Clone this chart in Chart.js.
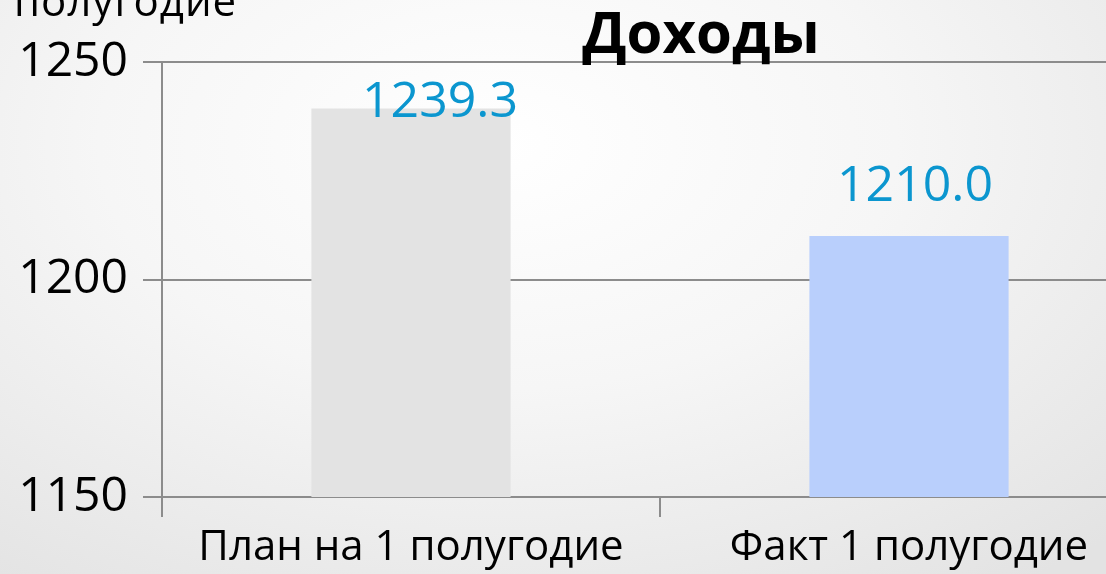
<!DOCTYPE html>
<html lang="ru">
<head>
<meta charset="utf-8">
<script src="https://cdn.jsdelivr.net/npm/chart.js@4.4.1/dist/chart.umd.min.js"></script>
<style>
  html, body { margin: 0; padding: 0; width: 1106px; height: 574px; overflow: hidden; }
  body {
    position: relative;
    font-family: "Open Sans", sans-serif;
    background: radial-gradient(ellipse 80% 95% at 45% 25%, #ffffff 0%, #f6f6f6 45%, #e3e3e3 100%);
  }
  #wrap { position: absolute; left: 0; top: 0; width: 1160px; height: 574px; }
  #stray { position: absolute; left: 14px; top: -21px; font-size: 42px; line-height: 1; color: #000; letter-spacing: 1px; }
  #title { position: absolute; left: 451px; width: 500px; top: 2px; text-align: center; font-size: 58px; font-weight: bold; line-height: 1; color: #000; }
</style>
</head>
<body>
<div id="wrap"><canvas id="chart"></canvas></div>
<div id="stray">полугодие</div>
<div id="title">Доходы</div>
<script>
const categories = ["План на 1 полугодие", "Факт 1 полугодие"];
const values = [1239.3, 1210.0];
const barColors = ["#e3e3e3", "#b9cffc"];
const yTicks = [1150, 1200, 1250];

const FONT = "'Open Sans', sans-serif";

/* value labels above the bars */
const valueLabels = {
  id: "valueLabels",
  afterDatasetsDraw(chart) {
    const { ctx, chartArea } = chart;
    const meta = chart.getDatasetMeta(0);
    ctx.save();
    ctx.font = "50px " + FONT;
    ctx.fillStyle = "#0b96cf";
    ctx.textAlign = "center";
    ctx.textBaseline = "alphabetic";
    meta.data.forEach((bar, i) => {
      let y = bar.y - 35;
      let x = bar.x + 6;
      const minY = chartArea.top + 55;
      if (y < minY) {
        y = minY;
        x = bar.x + 29;
      }
      ctx.fillText(values[i].toFixed(1), x, y);
    });
    ctx.restore();
  },
};

new Chart(document.getElementById("chart"), {
  type: "bar",
  data: {
    labels: categories,
    datasets: [
      {
        data: values,
        backgroundColor: barColors,
        barPercentage: 0.4,
        categoryPercentage: 1,
      },
    ],
  },
  options: {
    responsive: true,
    maintainAspectRatio: false,
    animation: false,
    layout: { padding: { top: 62, right: 2, left: 0, bottom: 0 } },
    plugins: {
      legend: { display: false },
      tooltip: { enabled: false },
    },
    scales: {
      x: {
        afterFit: (s) => { s.height = 77; },
        border: { display: true, color: "#8c8c8c", width: 2 },
        grid: { drawOnChartArea: false, drawTicks: true, tickLength: 20, color: "#8c8c8c", lineWidth: 2 },
        ticks: { color: "#000", font: { family: FONT, size: 42 }, padding: 6, maxRotation: 0 },
      },
      y: {
        min: 1150,
        max: 1250,
        afterFit: (s) => { s.width = 162; },
        afterBuildTicks: (s) => { s.ticks = yTicks.map((v) => ({ value: v })); },
        border: { display: true, color: "#8c8c8c", width: 2 },
        grid: { color: "#8c8c8c", lineWidth: 2, tickLength: 19 },
        ticks: {
          color: "#000",
          font: { family: FONT, size: 48 },
          padding: 15,
          callback: (v) => String(v),
        },
      },
    },
  },
  plugins: [valueLabels],
});
</script>
</body>
</html>
